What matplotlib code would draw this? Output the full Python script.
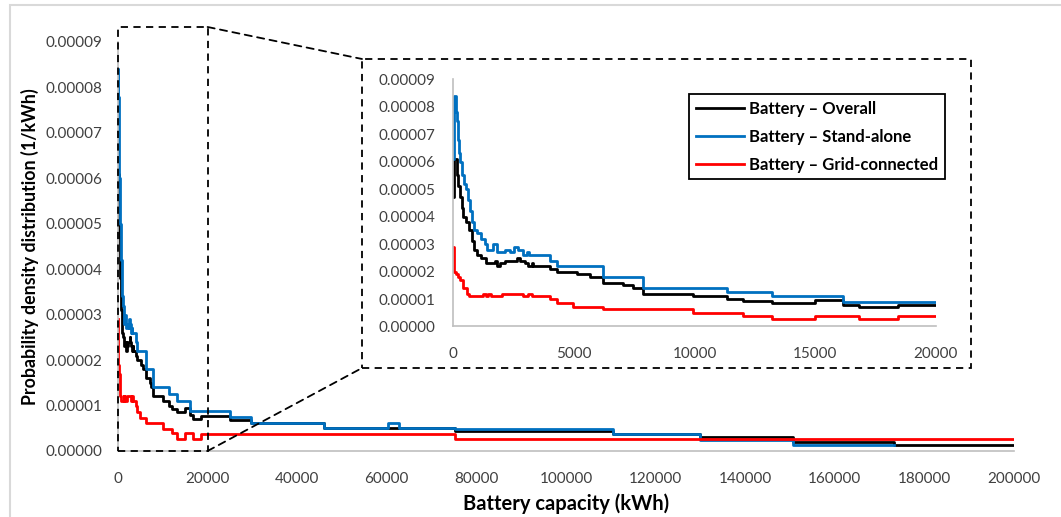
# Battery capacity probability density: full range with zoomed inset

import matplotlib
matplotlib.use('Agg')
import matplotlib.pyplot as plt
from matplotlib.patches import Rectangle, ConnectionPatch
from matplotlib.ticker import FuncFormatter, MultipleLocator

plt.rcParams['font.family'] = ['Lato', 'DejaVu Sans']

# Step points (capacity in kWh, density in 1/kWh)
overall_x = [0, 43, 139, 208, 277, 346, 415, 525, 663, 760, 857, 968, 1134, 1355,
             1728, 1825, 1935, 2142, 2626, 2764, 2971, 3110, 3248, 3317, 4008,
             4284, 5113, 5666, 6219, 7048, 7463, 7877, 9950, 11333, 12023,
             13201, 14995, 16165, 16832, 18450, 25000, 29700, 46000, 75200,
             110400, 130000, 150600, 173300, 200000]
overall_y = [4.7e-5, 6.1e-5, 5.5e-5, 5.1e-5, 4.7e-5, 4.3e-5, 4.0e-5, 3.8e-5,
             3.5e-5, 3.1e-5, 2.8e-5, 2.6e-5, 2.5e-5, 2.3e-5, 2.4e-5, 2.2e-5,
             2.3e-5, 2.4e-5, 2.5e-5, 2.4e-5, 2.3e-5, 2.2e-5, 2.3e-5, 2.2e-5,
             2.1e-5, 2.0e-5, 1.9e-5, 1.8e-5, 1.6e-5, 1.5e-5, 1.4e-5, 1.2e-5,
             1.1e-5, 1.0e-5, 9.2e-6, 8.5e-6, 9.5e-6, 7.9e-6, 7.0e-6, 7.8e-6,
             6.9e-6, 6.1e-6, 5.0e-6, 4.5e-6, 3.7e-6, 3.0e-6, 2.0e-6, 1.4e-6,
             1.4e-6]

standalone_x = [0, 43, 100, 139, 180, 240, 300, 380, 450, 525, 600, 700, 790,
                870, 1000, 1134, 1300, 1400, 1660, 1800, 2150, 2350, 2500, 2700,
                2900, 3050, 3150, 4008, 4284, 6219, 7877, 11333, 13201, 16165,
                25000, 29700, 46000, 60300, 62800, 75200, 110400, 130000,
                150600, 173300]
standalone_y = [6.1e-5, 8.4e-5, 7.8e-5, 7.5e-5, 6.8e-5, 6.3e-5, 6.0e-5, 5.5e-5,
                5.2e-5, 5.0e-5, 4.6e-5, 4.2e-5, 3.8e-5, 3.5e-5, 3.4e-5, 3.2e-5,
                3.0e-5, 2.8e-5, 3.0e-5, 2.7e-5, 2.8e-5, 2.7e-5, 2.9e-5, 2.8e-5,
                2.6e-5, 2.7e-5, 2.6e-5, 2.4e-5, 2.2e-5, 1.8e-5, 1.4e-5, 1.25e-5,
                1.1e-5, 8.9e-6, 7.4e-6, 6.1e-6, 5.0e-6, 6.2e-6, 5.0e-6, 4.8e-6,
                3.7e-6, 2.4e-6, 1.3e-6, 1.3e-6]

grid_x = [0, 30, 100, 200, 277, 415, 550, 650, 1240, 1350, 1450, 1550, 2000,
          2900, 3100, 3250, 4008, 4284, 4970, 6219, 9950, 12023, 13201, 14995,
          16832, 18450, 75200, 200000]
grid_y = [2.9e-5, 2.0e-5, 1.9e-5, 1.8e-5, 1.7e-5, 1.4e-5, 1.2e-5, 1.1e-5,
          1.2e-5, 1.1e-5, 1.2e-5, 1.1e-5, 1.2e-5, 1.1e-5, 1.2e-5, 1.1e-5,
          1.0e-5, 8.5e-6, 7.2e-6, 6.2e-6, 4.8e-6, 3.9e-6, 2.7e-6, 3.9e-6,
          2.7e-6, 3.8e-6, 2.6e-6, 2.6e-6]

series = [
    (overall_x, overall_y, 'black', 'Battery – Overall'),
    (standalone_x, standalone_y, '#0070C0', 'Battery – Stand-alone'),
    (grid_x, grid_y, '#FF0000', 'Battery – Grid-connected'),
]

axis_grey = '#BFBFBF'
tick_fmt = FuncFormatter(lambda v, p: '%.5f' % v)


def style_axes(ax, xpad, ypad):
    for side in ['top', 'right']:
        ax.spines[side].set_visible(False)
    for side in ['left', 'bottom']:
        ax.spines[side].set_color(axis_grey)
        ax.spines[side].set_linewidth(1.2)
    ax.tick_params(axis='both', length=0, labelsize=11, colors='#404040')
    ax.tick_params(axis='x', pad=xpad)
    ax.tick_params(axis='y', pad=ypad)
    ax.yaxis.set_major_locator(MultipleLocator(0.00001))
    ax.yaxis.set_major_formatter(tick_fmt)
    ax.set_ylim(0, 0.00009)


fig = plt.figure(figsize=(10.61, 5.17), dpi=100)

# light outer chart border
fig.patches.append(Rectangle((0.0094, -0.2), 1.2, 1.19, transform=fig.transFigure,
                             fill=False, edgecolor='#D9D9D9', lw=1.5))

# main chart
ax = fig.add_axes([0.1112, 0.1277, 0.8445, 0.7911])
for x, y, c, lab in series:
    ax.plot(x, y, color=c, lw=2, drawstyle='steps-post', label=lab)
style_axes(ax, 15, 11)
ax.set_xlim(0, 200000)
ax.xaxis.set_major_locator(MultipleLocator(20000))
ax.xaxis.set_major_formatter(FuncFormatter(lambda v, p: '%d' % v))
ax.set_xlabel('Battery capacity (kWh)', fontsize=14.5, fontweight='bold',
              color='black', va='center')
ax.xaxis.set_label_coords(0.5, -0.13)
ax.set_ylabel('Probability density distribution (1/kWh)', fontsize=12.8,
              fontweight='bold', color='black', va='center')
ax.yaxis.set_label_coords(-0.098, 0.5)

# dashed box marking the zoomed region
zoom_top = 0.0000933
ax.add_patch(Rectangle((0, 0), 20000, zoom_top, fill=False, edgecolor='black',
                       ls=(0, (4, 3)), lw=1.3, clip_on=False, zorder=5))

# inset frame and zoomed axes
frame_l, frame_b, frame_r, frame_t = 0.3412, 0.2882, 0.9152, 0.8859
fig.patches.append(Rectangle((frame_l, frame_b), frame_r - frame_l, frame_t - frame_b,
                             transform=fig.transFigure, fill=False, edgecolor='black',
                             ls=(0, (4, 3)), lw=1.3))
for ya, yf in [(zoom_top, frame_t), (0, frame_b)]:
    con = ConnectionPatch(xyA=(20000, ya), coordsA=ax.transData,
                          xyB=(frame_l, yf), coordsB=fig.transFigure,
                          color='black', ls=(0, (4, 3)), lw=1.3)
    fig.add_artist(con)

axin = fig.add_axes([0.4272, 0.3685, 0.4547, 0.4781])
for x, y, c, lab in series:
    axin.plot(x, y, color=c, lw=2, drawstyle='steps-post', label=lab)
style_axes(axin, 15, 13)
axin.set_xlim(0, 20000)
axin.xaxis.set_major_locator(MultipleLocator(5000))
axin.xaxis.set_major_formatter(FuncFormatter(lambda v, p: '%d' % v))

leg = axin.legend(loc='upper right', bbox_to_anchor=(0.8907, 0.8182),
                  bbox_transform=fig.transFigure, borderaxespad=0, fancybox=False,
                  framealpha=1, edgecolor='black', handlelength=2.9,
                  handletextpad=0.3, labelspacing=0.72, borderpad=0.4,
                  prop={'weight': 'bold', 'size': 12})
leg.get_frame().set_linewidth(1.3)

fig.savefig('out.png', dpi=100)
